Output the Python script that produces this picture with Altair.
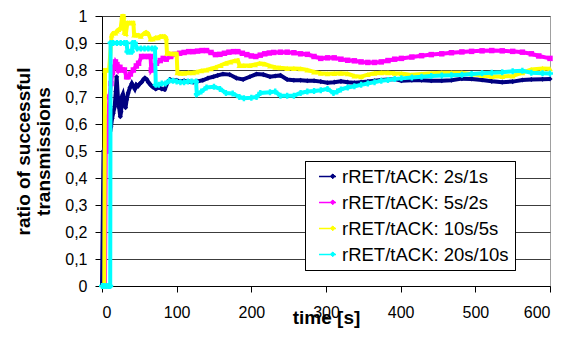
import altair as alt
import pandas as pd

labels = ["rRET/tACK: 2s/1s", "rRET/tACK: 5s/2s", "rRET/tACK: 10s/5s", "rRET/tACK: 20s/10s"]
colors = ["#000080", "#FF00FF", "#FFFF00", "#00FFFF"]
shapes = ["diamond", "square", "triangle-up", "cross"]

t_a = [0, 2, 9.5, 10.5, 12, 13.5, 15, 17, 18.5, 19.6, 21.5, 23, 24.5, 25.5, 26.5, 28, 30, 31.5, 33, 35,
       37.5, 40, 42, 44, 46, 48, 51, 53, 55.5, 57.5, 60, 62, 65, 68, 72, 76, 80, 84, 88, 91, 95, 100,
       105, 110, 116, 122, 128, 135, 142, 149, 155, 162, 171, 180, 189, 198, 207, 216, 225, 232, 239,
       248, 257, 266, 275, 284, 293, 302, 311, 320, 329, 338, 347, 356, 365, 374, 383, 392, 401, 415,
       428, 441, 455, 468, 482, 495, 509, 522, 536, 550, 563, 575, 590, 600]
v_a = [0, 0.5, 0.556, 0.596, 0.59, 0.62, 0.64, 0.665, 0.72, 0.775, 0.69, 0.66, 0.627, 0.645, 0.70, 0.71,
       0.68, 0.66, 0.69, 0.715, 0.735, 0.75, 0.74, 0.73, 0.745, 0.74, 0.75, 0.755, 0.765, 0.77, 0.765,
       0.755, 0.745, 0.737, 0.73, 0.735, 0.73, 0.728, 0.755, 0.765, 0.76, 0.762, 0.758, 0.76, 0.757,
       0.755, 0.758, 0.762, 0.77, 0.775, 0.78, 0.785, 0.783, 0.77, 0.765, 0.775, 0.785, 0.783, 0.775,
       0.778, 0.78, 0.765, 0.762, 0.762, 0.76, 0.76, 0.757, 0.753, 0.755, 0.758, 0.755, 0.753, 0.755,
       0.757, 0.76, 0.763, 0.765, 0.766, 0.76, 0.762, 0.762, 0.76, 0.76, 0.762, 0.768, 0.767, 0.763,
       0.758, 0.755, 0.757, 0.763, 0.765, 0.766, 0.767]

t_b = [4, 5, 7, 8.5, 10, 12, 14, 16, 18, 20, 22, 24, 27, 30, 33, 35, 38, 42, 46, 49, 53, 57, 62, 65,
       66, 70, 73, 78, 82, 86, 92, 98, 104, 110, 116, 122, 128, 134, 140, 146, 152, 158, 164, 170,
       176, 182, 188, 194, 200, 206, 212, 218, 224, 230, 239, 248, 257, 266, 275, 284, 293, 302, 311,
       320, 329, 338, 347, 356, 365, 374, 383, 392, 401, 415, 428, 441, 455, 468, 482, 495, 509, 522,
       536, 550, 563, 575, 585, 600]
v_b = [0, 0.5, 0.5, 0.625, 0.70, 0.75, 0.79, 0.81, 0.83, 0.82, 0.80, 0.81, 0.80, 0.80, 0.775, 0.775,
       0.785, 0.80, 0.815, 0.825, 0.85, 0.85, 0.85, 0.85, 0.80, 0.815, 0.825, 0.835, 0.843, 0.84,
       0.85, 0.858, 0.862, 0.865, 0.868, 0.868, 0.87, 0.872, 0.872, 0.865, 0.857, 0.858, 0.862,
       0.866, 0.868, 0.868, 0.862, 0.857, 0.852, 0.85, 0.855, 0.86, 0.863, 0.865, 0.866, 0.866,
       0.864, 0.86, 0.858, 0.85, 0.843, 0.845, 0.845, 0.84, 0.836, 0.834, 0.83, 0.828, 0.828, 0.83,
       0.835, 0.84, 0.843, 0.848, 0.853, 0.857, 0.86, 0.864, 0.867, 0.869, 0.871, 0.872, 0.871,
       0.869, 0.866, 0.86, 0.852, 0.843]

t_c = [3, 4, 6, 9.5, 13, 15, 18, 20, 22, 25, 27, 29, 30, 32, 34, 37, 40, 42, 43, 46, 49, 52, 56, 59,
       62, 65, 68, 72, 75, 78, 81, 84, 86, 87, 90, 94, 98, 100, 101, 105, 110, 116, 122, 127, 133,
       140, 146, 152, 159, 166, 172, 178, 182, 184, 190, 198, 205, 211, 218, 225, 232, 239, 248, 257,
       266, 275, 284, 293, 302, 311, 320, 329, 338, 347, 356, 365, 374, 383, 392, 401, 415, 428, 441,
       455, 468, 482, 495, 509, 522, 536, 550, 563, 575, 590, 600]
v_c = [0, 0.8, 0.8, 0.8, 0.93, 0.937, 0.937, 0.945, 0.95, 0.955, 1.0, 1.0, 0.94, 0.935, 0.975, 0.975,
       0.975, 0.975, 0.93, 0.93, 0.93, 0.925, 0.935, 0.94, 0.935, 0.915, 0.915, 0.92, 0.92, 0.925,
       0.925, 0.925, 0.92, 0.862, 0.862, 0.86, 0.86, 0.86, 0.79, 0.788, 0.788, 0.79, 0.79, 0.793,
       0.797, 0.80, 0.805, 0.81, 0.817, 0.825, 0.83, 0.834, 0.836, 0.817, 0.817, 0.817, 0.82, 0.825,
       0.822, 0.815, 0.81, 0.808, 0.806, 0.806, 0.805, 0.80, 0.793, 0.788, 0.786, 0.787, 0.788,
       0.786, 0.778, 0.775, 0.783, 0.788, 0.79, 0.79, 0.788, 0.787, 0.782, 0.785, 0.788, 0.79, 0.79,
       0.79, 0.785, 0.78, 0.776, 0.776, 0.778, 0.79, 0.802, 0.806, 0.805]

t_d = [0, 3, 6, 9, 11, 11.5, 15, 20, 25, 30, 33, 34, 37, 40, 41, 44, 47, 52, 57, 62, 67, 71, 72, 76,
       80, 85, 90, 95, 100, 105, 110, 115, 120, 126, 127, 133, 140, 150, 158, 166, 175, 184, 190, 200,
       207, 212, 225, 232, 239, 248, 257, 266, 275, 284, 293, 302, 310, 315, 320, 329, 338, 347, 356,
       365, 374, 383, 392, 401, 415, 428, 441, 455, 468, 482, 495, 509, 522, 536, 550, 563, 575, 590,
       600]
v_d = [0, 0, 0, 0, 0, 0.9, 0.9, 0.9, 0.9, 0.9, 0.9, 0.868, 0.868, 0.868, 0.9, 0.9, 0.88, 0.88, 0.88,
       0.88, 0.88, 0.88, 0.745, 0.745, 0.75, 0.75, 0.76, 0.76, 0.757, 0.755, 0.755, 0.757, 0.757,
       0.757, 0.71, 0.72, 0.735, 0.738, 0.73, 0.715, 0.713, 0.70, 0.695, 0.697, 0.70, 0.715, 0.718,
       0.72, 0.705, 0.705, 0.705, 0.715, 0.72, 0.722, 0.725, 0.73, 0.715, 0.72, 0.728, 0.735, 0.74,
       0.745, 0.75, 0.755, 0.76, 0.763, 0.767, 0.769, 0.772, 0.775, 0.778, 0.78, 0.781, 0.782,
       0.785, 0.788, 0.79, 0.792, 0.795, 0.797, 0.79, 0.788, 0.787]

series_t = [t_a, t_b, t_c, t_d]
series_v = [v_a, v_b, v_c, v_d]
sizes = [26, 30, 34, 36]

FONT = "Liberation Sans"

x_axis = alt.Axis(values=[0, 100, 200, 300, 400, 500, 600], grid=False, domainColor="#000",
                  tickColor="#000", tickSize=6, labelFontSize=16, labelFont=FONT,
                  labelColor="#000", labelPadding=12, title="time [s]", titleFont=FONT,
                  titleFontSize=19, titleFontWeight="bold", titleColor="#000",
                  titleY=37, titleBaseline="alphabetic")
y_axis = alt.Axis(values=[i / 10 for i in range(11)], grid=True, gridColor="#3c3c3c",
                  domainColor="#000", tickColor="#000", tickSize=7, labelFontSize=16,
                  labelFont=FONT, labelColor="#000", labelPadding=8,
                  labelExpr="datum.value == 0 ? '0' : datum.value == 1 ? '1' : replace(format(datum.value, '.1f'), '.', ',')",
                  title=["ratio of successful", "transmissions"], titleFont=FONT,
                  titleFontSize=19, titleFontWeight="bold", titleColor="#000", titlePadding=11,
                  titleLineHeight=20)

LX, LY = 203, 145
legend_lines = alt.Legend(title=None, orient="none", legendX=LX, legendY=LY,
                          labelFontSize=18.5, labelFont=FONT, labelColor="#000",
                          labelLimit=400, symbolType="stroke", symbolSize=289,
                          symbolStrokeWidth=1.5, rowPadding=7, padding=6,
                          strokeColor="#000", fillColor="#fff", symbolOffset=7,
                          labelOffset=5)
legend_marks = alt.Legend(title=None, orient="none", legendX=LX, legendY=LY,
                          labelFontSize=18.5, labelFont=FONT, labelExpr="''",
                          labelLimit=400, symbolType="diamond", symbolSize=24,
                          rowPadding=7, padding=6,
                          symbolOffset=12.5, symbolStrokeWidth=0, zindex=2)

color_lines = alt.Scale(domain=labels, range=colors)
color_marks = alt.Scale(domain=labels, range=colors)
shape_scale = alt.Scale(domain=labels, range=shapes)

layers = []
for i, lab in enumerate(labels):
    df = pd.DataFrame({"t": series_t[i], "v": series_v[i], "series": lab, "series_m": lab})
    base = alt.Chart(df).encode(
        x=alt.X("t:Q", scale=alt.Scale(domain=[0, 600], nice=False), axis=x_axis),
        y=alt.Y("v:Q", scale=alt.Scale(domain=[0, 1], nice=False), axis=y_axis),
    )
    line = base.mark_line(strokeWidth=4).encode(
        color=alt.Color("series:N", scale=color_lines, legend=legend_lines),
    )
    pts = base.mark_point(filled=True, size=sizes[i], opacity=1).encode(
        color=alt.Color("series_m:N", scale=color_marks, legend=legend_marks),
        shape=alt.Shape("series_m:N", scale=shape_scale, legend=None),
    )
    layers += [line, pts]

chart = alt.layer(*layers).resolve_scale(color="independent").properties(
    width=448, height=270,
    padding={"left": 102, "top": 16, "right": 25, "bottom": 54},
    autosize=alt.AutoSizeParams(type="none"),
    background="#ffffff",
).configure_view(stroke="#a0a0a0", strokeWidth=1)

chart.save("out.html", embed_options={"renderer": "svg", "actions": False})
